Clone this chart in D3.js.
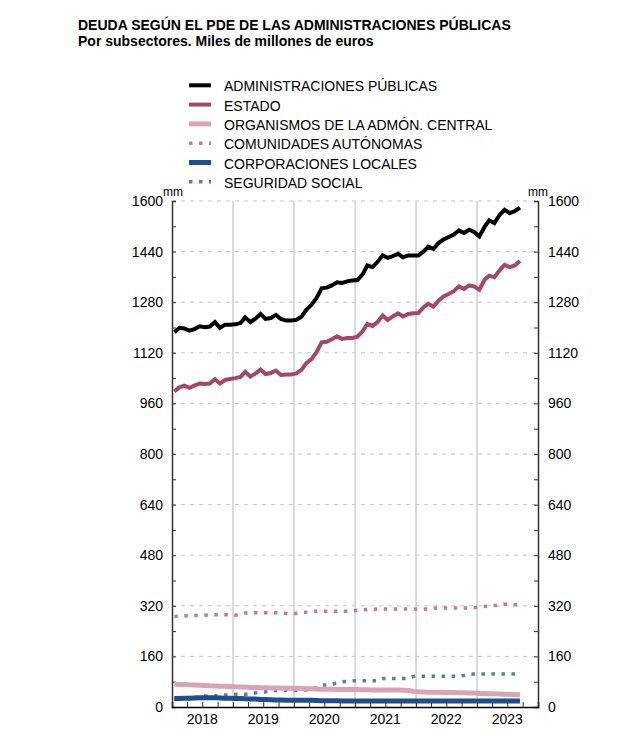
<!DOCTYPE html>
<html>
<head>
<meta charset="utf-8">
<script src="https://cdn.jsdelivr.net/npm/d3@7"></script>
<style>
  body { margin: 0; background: #fff; }
  text { font-family: "Liberation Sans", Arial, sans-serif; }
</style>
</head>
<body>
<svg></svg>
<script>
// Deuda PDE por subsectores (miles de millones de euros), datos mensuales ene-2018 .. sep-2023

let width = 643, height = 734;

let years = [2018, 2019, 2020, 2021, 2022, 2023];
let yTicks = [0, 160, 320, 480, 640, 800, 960, 1120, 1280, 1440, 1600];

let aapp = [1185, 1199, 1197, 1190, 1195, 1204, 1201, 1203, 1217, 1199, 1209, 1209,
  1210, 1214, 1232, 1217, 1228, 1243, 1227, 1230, 1240, 1227, 1222, 1222,
  1224, 1234, 1256, 1272, 1293, 1324, 1326, 1333, 1343, 1341, 1346, 1349,
  1350, 1368, 1396, 1391, 1407, 1428, 1420, 1426, 1433, 1422, 1428, 1428,
  1428, 1440, 1456, 1449, 1467, 1478, 1486, 1494, 1507, 1499, 1509, 1502,
  1488, 1518, 1539, 1530, 1555, 1572, 1562, 1568, 1579];

let estado = [998, 1011, 1016, 1009, 1016, 1023, 1021, 1023, 1037, 1023, 1034, 1037,
  1040, 1044, 1060, 1045, 1054, 1067, 1053, 1056, 1064, 1050, 1051, 1051,
  1055, 1066, 1087, 1100, 1122, 1153, 1155, 1163, 1172, 1164, 1167, 1167,
  1171, 1188, 1211, 1205, 1217, 1238, 1224, 1235, 1245, 1235, 1243, 1245,
  1246, 1264, 1275, 1266, 1285, 1298, 1306, 1315, 1330, 1322, 1333, 1330,
  1319, 1351, 1364, 1359, 1380, 1398, 1391, 1396, 1410];

let organismos = [72, 71.5, 71, 70, 69.5, 69, 68, 67, 66.5, 66, 65.5, 65,
  64, 63.5, 63, 62, 61.5, 61, 60.5, 60, 60, 60, 59.5, 59.5,
  59, 58.5, 58, 57.5, 57, 56.5, 56, 56, 55.5, 55.5, 55, 55,
  55, 54.5, 54.5, 54, 54, 54, 54, 53.5, 53.5, 53, 52, 50,
  48, 47.5, 47, 47, 46.5, 46, 46, 45.5, 45, 45, 44.5, 44,
  43, 42.5, 42, 41.5, 41, 40.5, 40, 39.5, 38.5];

let ccaa = [286, 287, 288, 289, 289, 289, 290, 291, 292, 292, 292, 291,
  290, 294, 297, 298, 298, 298, 298, 298, 298, 297, 296, 295,
  296, 298, 300, 302, 303, 303, 303, 303, 303, 303, 303, 304,
  306, 307, 308, 309, 310, 310, 310, 310, 310, 310, 310, 310,
  309, 309, 311, 312, 313, 313, 313, 313, 313, 313, 313, 314,
  316, 318, 320, 321, 323, 325, 324, 323, 323];

let ccll = [26.5, 27, 27.5, 28, 28.5, 29, 29.5, 29.5, 29, 28.5, 28, 27.5,
  27, 26.5, 26, 25.5, 25, 24, 23.5, 23, 22.5, 22, 21.5, 21,
  21, 21.5, 21.5, 21, 20.5, 20, 20, 19.5, 19.5, 19, 19, 19,
  19, 19, 19, 19, 19, 19, 19, 19, 19, 19, 19, 19,
  19, 19, 19, 19, 19, 19, 19, 19, 19, 19, 19, 19,
  19, 19, 19, 19, 19, 19, 19, 19, 19];

let segsocial = [24, 26, 28, 29.5, 30, 33, 35, 35, 35, 37, 38, 39,
  40, 40, 40, 43, 44.5, 47, 48, 51, 52, 53, 53, 53,
  53, 53, 54, 56, 62, 69, 70, 72, 76, 79.5, 81, 82.7,
  82.7, 82.7, 82.7, 82.7, 82.7, 90, 90, 90, 90, 90, 90, 96.5,
  97.5, 97.5, 97.5, 97.5, 97.5, 97.5, 97.5, 97.5, 97.5, 100, 104, 104,
  104, 104, 104, 104, 104, 104, 104, 104, 104];

let months = d3.timeMonth.range(new Date(2018, 0, 1), new Date(2023, 9, 1));

let series = [
  { name: "ADMINISTRACIONES PÚBLICAS", values: aapp, color: "#000000", width: 4, dash: null },
  { name: "ESTADO", values: estado, color: "#a64669", width: 4, dash: null },
  { name: "ORGANISMOS DE LA ADMÓN. CENTRAL", values: organismos, color: "#dba3b6", width: 5, dash: null },
  { name: "COMUNIDADES AUTÓNOMAS", values: ccaa, color: "#c27b95", width: 3.5, dash: "3.5,6.5" },
  { name: "CORPORACIONES LOCALES", values: ccll, color: "#1f4d8f", width: 5, dash: null },
  { name: "SEGURIDAD SOCIAL", values: segsocial, color: "#5a7ea8", width: 3.5, dash: "3.5,6.5" }
];

let svg = d3.select("svg")
  .attr("width", width)
  .attr("height", height);

// titulo
svg.append("text")
  .attr("x", 78).attr("y", 30)
  .style("font-size", "14px").style("font-weight", "bold")
  .text("DEUDA SEGÚN EL PDE DE LAS ADMINISTRACIONES PÚBLICAS");
svg.append("text")
  .attr("x", 78).attr("y", 46)
  .style("font-size", "14px").style("font-weight", "bold")
  .text("Por subsectores. Miles de millones de euros");

let x = d3.scaleTime()
  .domain([new Date(2018, 0, 1), new Date(2024, 0, 1)])
  .range([172, 538]);

let y = d3.scaleLinear()
  .domain([0, 1600])
  .range([707, 201]);

// rejilla
svg.append("g")
  .selectAll("line")
  .data(yTicks.filter(d => d > 0))
  .enter()
  .append("line")
  .attr("x1", x.range()[0]).attr("x2", x.range()[1])
  .attr("y1", d => y(d)).attr("y2", d => y(d))
  .attr("stroke", "#c4c4c4")
  .attr("stroke-width", 1)
  .attr("stroke-dasharray", "4,5");

svg.append("g")
  .selectAll("line")
  .data(years.slice(1))
  .enter()
  .append("line")
  .attr("x1", d => x(new Date(d, 0, 1))).attr("x2", d => x(new Date(d, 0, 1)))
  .attr("y1", y(1600)).attr("y2", y(0))
  .attr("stroke", "#cfcfcf")
  .attr("stroke-width", 1.5);

// ejes
let minorY = d3.range(0, 1601, 80);

let leftAxis = svg.append("g")
  .attr("transform", "translate(" + x.range()[0] + ",0)")
  .call(d3.axisRight(y).tickValues(minorY).tickSize(4).tickFormat(""));
let rightAxis = svg.append("g")
  .attr("transform", "translate(" + x.range()[1] + ",0)")
  .call(d3.axisLeft(y).tickValues(minorY).tickSize(4).tickFormat(""));
[leftAxis, rightAxis].forEach(a => {
  a.select(".domain").attr("stroke", "#333").attr("stroke-width", 1.5);
  a.selectAll(".tick line").attr("stroke", "#333").attr("stroke-width", 1);
});

svg.append("g")
  .selectAll("text")
  .data(yTicks)
  .enter()
  .append("text")
  .attr("x", 163).attr("y", d => y(d) + 5)
  .attr("text-anchor", "end")
  .style("font-size", "14px")
  .text(d => d);

svg.append("g")
  .selectAll("text")
  .data(yTicks)
  .enter()
  .append("text")
  .attr("x", 548).attr("y", d => y(d) + 5)
  .style("font-size", "14px")
  .text(d => d);

svg.append("text").attr("x", 173).attr("y", 196)
  .attr("text-anchor", "middle")
  .style("font-size", "12px").text("mm");
svg.append("text").attr("x", 538).attr("y", 196)
  .attr("text-anchor", "middle")
  .style("font-size", "12px").text("mm");

let quarters = d3.timeMonth.every(3).range(new Date(2018, 0, 1), new Date(2024, 0, 2));
let bottomAxis = svg.append("g")
  .attr("transform", "translate(0," + y(0) + ")")
  .call(d3.axisTop(x).tickValues(quarters).tickSize(5).tickFormat(""));
bottomAxis.select(".domain").attr("stroke", "#000").attr("stroke-width", 1.5);
bottomAxis.selectAll(".tick line").attr("stroke", "#333");

svg.append("g")
  .selectAll("text")
  .data(years)
  .enter()
  .append("text")
  .attr("x", d => x(new Date(d, 6, 1)))
  .attr("y", 724)
  .attr("text-anchor", "middle")
  .style("font-size", "14px")
  .text(d => d);

// lineas
let line = d3.line()
  .x((d, i) => x(d3.timeDay.offset(months[i], 14)))
  .y(d => y(d));

svg.append("g")
  .selectAll("path")
  .data(series.slice().reverse())
  .enter()
  .append("path")
  .attr("fill", "none")
  .attr("stroke", d => d.color)
  .attr("stroke-width", d => d.width)
  .attr("stroke-dasharray", d => d.dash)
  .attr("stroke-linejoin", "miter")
  .attr("d", d => line(d.values));

// leyenda
let legend = svg.append("g")
  .selectAll("g")
  .data(series)
  .enter()
  .append("g")
  .attr("transform", (d, i) => "translate(0," + (85.3 + i * 19.3) + ")");

legend.append("line")
  .attr("x1", 189).attr("x2", 211)
  .attr("stroke", d => d.color)
  .attr("stroke-width", d => d.width)
  .attr("stroke-dasharray", d => d.dash);

legend.append("text")
  .attr("x", 224).attr("y", 6)
  .style("font-size", "14px")
  .text(d => d.name);
</script>
</body>
</html>
